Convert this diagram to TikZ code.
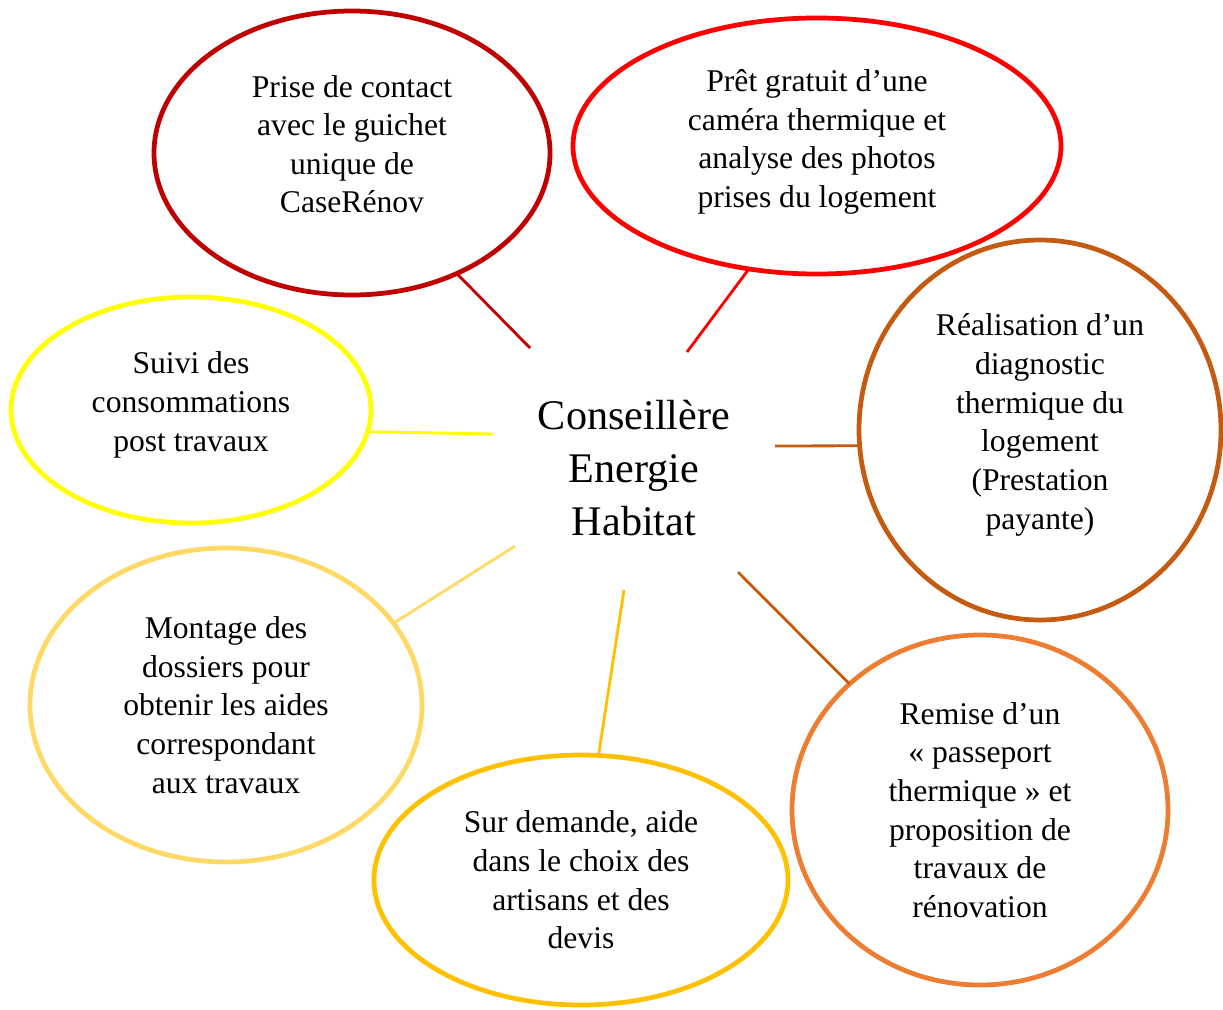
\documentclass[tikz,border=0pt]{standalone}
\usepackage{fontspec}
\setmainfont{Liberation Serif}
\usetikzlibrary{shapes.geometric}
\definecolor{darkred}{HTML}{C00000}
\definecolor{brightred}{HTML}{FF0000}
\definecolor{rust}{HTML}{C55A11}
\definecolor{orangeacc}{HTML}{ED7D31}
\definecolor{gold}{HTML}{FFC000}
\definecolor{lightgold}{HTML}{FFD966}
\definecolor{brightyellow}{HTML}{FFFF00}
\tikzset{
  bubble/.style={ellipse, draw, line width=2.7pt, inner sep=0pt, outer sep=0pt,
    align=center, font=\fontsize{18}{22}\selectfont},
  spoke/.style={line width=1.6pt}
}
\begin{document}
\begin{tikzpicture}[x=0.02cm, y=-0.02cm]
\useasboundingbox (0,0) rectangle (1223,1010);
% centre
\node[align=center, font=\fontsize{24}{30}\selectfont] (ceh) at (634,468)
  {Conseillère\\Energie\\Habitat};
% bulles
\node[bubble, draw=darkred, minimum width=396*0.02cm, minimum height=284*0.02cm,
  text depth=10.2pt] (contact) at (352,153)
  {Prise de contact\\avec le guichet\\unique de\\CaseRénov};
\node[bubble, draw=brightred, minimum width=488*0.02cm, minimum height=256*0.02cm,
  text depth=8.4pt] (camera) at (817,146)
  {Prêt gratuit d’une\\caméra thermique et\\analyse des photos\\prises du logement};
\node[bubble, draw=rust, minimum width=362*0.02cm, minimum height=380*0.02cm,
  text depth=9.6pt] (diag) at (1040,430)
  {Réalisation d’un\\diagnostic\\thermique du\\logement\\(Prestation\\payante)};
\node[bubble, draw=orangeacc, minimum width=376*0.02cm, minimum height=350*0.02cm]
  (passeport) at (980,810)
  {Remise d’un\\« passeport\\thermique » et\\proposition de\\travaux de\\rénovation};
\node[bubble, draw=gold, minimum width=414*0.02cm, minimum height=250*0.02cm]
  (devis) at (581,880)
  {Sur demande, aide\\dans le choix des\\artisans et des\\devis};
\node[bubble, draw=lightgold, minimum width=392*0.02cm, minimum height=314*0.02cm]
  (aides) at (226,705)
  {Montage des\\dossiers pour\\obtenir les aides\\correspondant\\aux travaux};
\node[bubble, draw=brightyellow, minimum width=360*0.02cm, minimum height=226*0.02cm,
  text depth=9.6pt] (suivi) at (191,410)
  {Suivi des\\consommations\\post travaux};
% extremites libres
\coordinate (fcontact) at (530,348);
\coordinate (fcamera) at (687,352);
\coordinate (fdiag) at (775,446);
\coordinate (fpasseport) at (738,572);
\coordinate (fdevis) at (624,590);
\coordinate (faides) at (515,546);
\coordinate (fsuivi) at (493,434);
% rayons
\draw[spoke, darkred] (fcontact) -- (contact.311.5);
\draw[spoke, brightred] (fcamera) -- (camera.241.6);
\draw[spoke, rust] (fdiag) -- (diag.185.6);
\draw[spoke, rust] (fpasseport) -- (passeport.136.3);
\draw[spoke, gold] (fdevis) -- (devis.82.9);
\draw[spoke, lightgold] (faides) -- (aides.26.7);
\draw[spoke, brightyellow] (fsuivi) -- (suivi.353.7);
\end{tikzpicture}
\end{document}
